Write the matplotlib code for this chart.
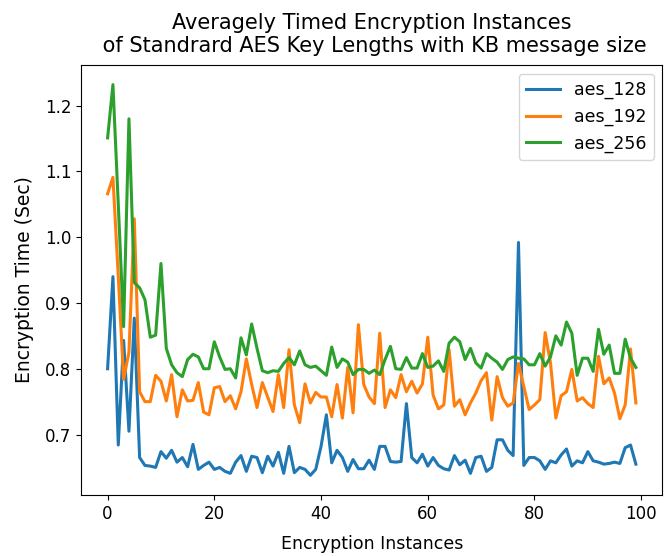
import numpy as np
import matplotlib
matplotlib.use('Agg')
import matplotlib.pyplot as plt

# timed encryption runs
instances = np.arange(100)

aes_128 = [0.800, 0.940, 0.684, 0.843, 0.705, 0.877, 0.665, 0.653, 0.652, 0.650,
           0.674, 0.664, 0.676, 0.658, 0.665, 0.651, 0.685, 0.647, 0.653, 0.658,
           0.647, 0.650, 0.644, 0.641, 0.658, 0.668, 0.644, 0.667, 0.665, 0.642,
           0.667, 0.652, 0.673, 0.641, 0.682, 0.642, 0.650, 0.647, 0.638, 0.647,
           0.682, 0.730, 0.657, 0.676, 0.665, 0.644, 0.662, 0.648, 0.648, 0.661,
           0.647, 0.682, 0.682, 0.659, 0.658, 0.659, 0.747, 0.665, 0.657, 0.670,
           0.652, 0.665, 0.653, 0.648, 0.646, 0.668, 0.654, 0.661, 0.641, 0.665,
           0.667, 0.644, 0.650, 0.692, 0.692, 0.676, 0.668, 0.992, 0.653, 0.665,
           0.665, 0.660, 0.647, 0.660, 0.657, 0.669, 0.678, 0.652, 0.660, 0.657,
           0.674, 0.660, 0.658, 0.655, 0.656, 0.658, 0.656, 0.680, 0.684, 0.655]

aes_192 = [1.066, 1.091, 0.940, 0.784, 0.825, 1.028, 0.765, 0.750, 0.750, 0.790,
           0.781, 0.751, 0.791, 0.727, 0.768, 0.751, 0.752, 0.779, 0.734, 0.730,
           0.771, 0.773, 0.750, 0.759, 0.739, 0.765, 0.815, 0.776, 0.741, 0.779,
           0.757, 0.735, 0.791, 0.741, 0.829, 0.745, 0.718, 0.777, 0.748, 0.764,
           0.757, 0.757, 0.727, 0.776, 0.725, 0.802, 0.733, 0.867, 0.776, 0.757,
           0.747, 0.854, 0.741, 0.768, 0.756, 0.791, 0.765, 0.781, 0.763, 0.777,
           0.848, 0.760, 0.739, 0.745, 0.829, 0.743, 0.753, 0.730, 0.748, 0.763,
           0.782, 0.794, 0.722, 0.788, 0.756, 0.743, 0.748, 0.808, 0.773, 0.738,
           0.745, 0.753, 0.855, 0.809, 0.725, 0.759, 0.765, 0.799, 0.751, 0.756,
           0.747, 0.741, 0.819, 0.777, 0.786, 0.763, 0.724, 0.745, 0.830, 0.748]

aes_256 = [1.151, 1.232, 1.050, 0.864, 1.180, 0.931, 0.923, 0.905, 0.848, 0.851,
           0.960, 0.831, 0.806, 0.794, 0.788, 0.814, 0.822, 0.818, 0.800, 0.800,
           0.841, 0.818, 0.799, 0.800, 0.786, 0.847, 0.821, 0.868, 0.831, 0.797,
           0.794, 0.797, 0.796, 0.808, 0.817, 0.806, 0.827, 0.806, 0.802, 0.804,
           0.797, 0.790, 0.833, 0.802, 0.815, 0.810, 0.791, 0.799, 0.799, 0.793,
           0.798, 0.791, 0.814, 0.834, 0.800, 0.799, 0.817, 0.801, 0.801, 0.823,
           0.802, 0.804, 0.812, 0.796, 0.839, 0.848, 0.841, 0.814, 0.831, 0.809,
           0.801, 0.823, 0.816, 0.810, 0.799, 0.814, 0.818, 0.816, 0.815, 0.806,
           0.806, 0.823, 0.804, 0.818, 0.850, 0.836, 0.871, 0.854, 0.790, 0.816,
           0.816, 0.796, 0.860, 0.822, 0.836, 0.793, 0.793, 0.845, 0.816, 0.802]

fig = plt.figure(figsize=(6.71, 5.56), dpi=100)
fig.subplots_adjust(left=0.121, right=0.987, top=0.883, bottom=0.110)
ax = fig.add_subplot(111)

ax.plot(instances, aes_128, label='aes_128', linewidth=2.2)
ax.plot(instances, aes_192, label='aes_192', linewidth=2.2)
ax.plot(instances, aes_256, label='aes_256', linewidth=2.2)

ax.set_title('Averagely Timed Encryption Instances\n of Standrard AES Key Lengths with KB message size',
             fontsize=15, pad=9.5)
ax.set_xlabel('Encryption Instances', fontsize=12.5, labelpad=9)
ax.set_ylabel('Encryption Time (Sec)', fontsize=13.5, labelpad=8)
ax.tick_params(labelsize=12)
ax.legend(loc='upper right', fontsize=12.5)

plt.savefig('out.png', dpi=100)
